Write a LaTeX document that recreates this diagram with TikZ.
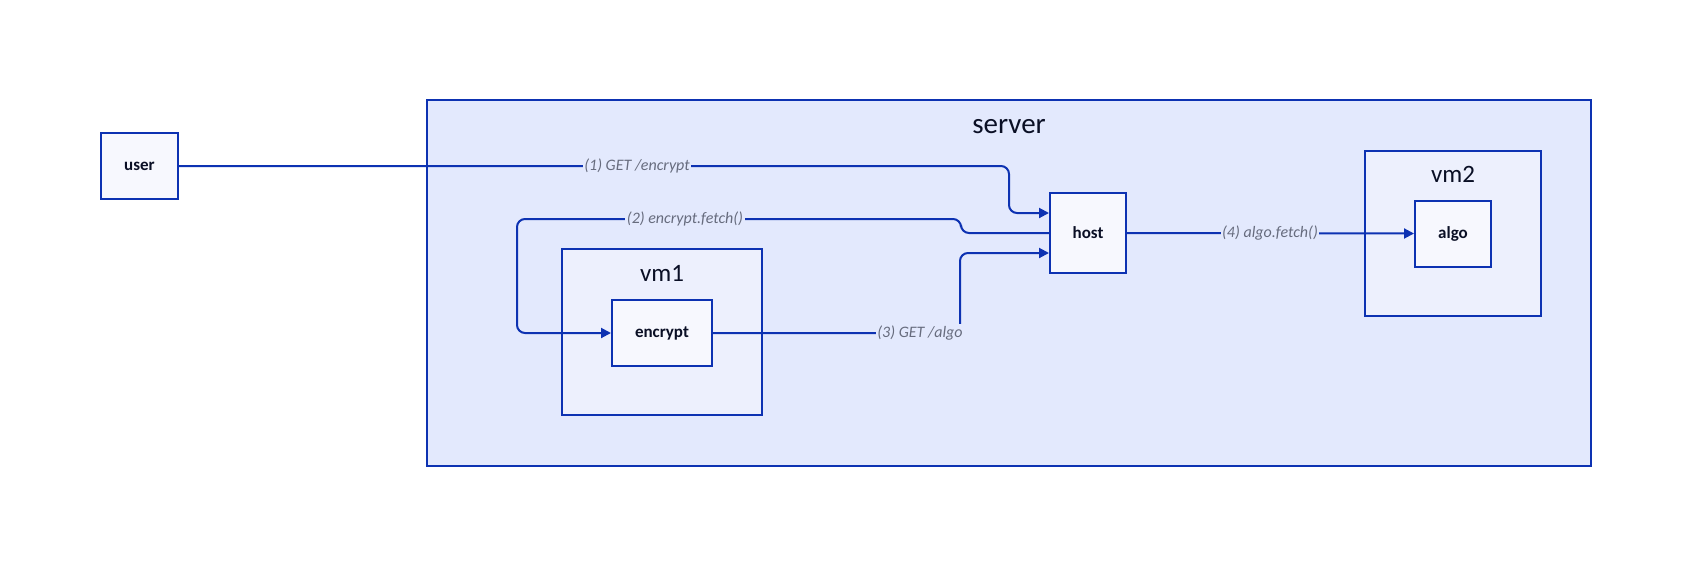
\documentclass[tikz,border=0pt]{standalone}
\usepackage{fontspec}
\setmainfont{Carlito}
\usetikzlibrary{arrows.meta}
\definecolor{strokeblue}{HTML}{0D32B2}
\definecolor{fillone}{HTML}{E3E9FD}
\definecolor{filltwo}{HTML}{EDF0FD}
\definecolor{fillthree}{HTML}{F7F8FE}
\definecolor{textdark}{HTML}{0A0F25}
\definecolor{textgrey}{HTML}{676C7E}
\tikzset{
  box/.style={draw=strokeblue, line width=2pt, fill=fillthree, text=textdark,
    font=\fontsize{17}{20}\selectfont\bfseries, inner sep=0pt},
  container/.style={draw=strokeblue, line width=2pt, inner sep=0pt},
  contlabel/.style={text=textdark, inner sep=0pt},
  conn/.style={draw=strokeblue, line width=2pt, rounded corners=8pt,
    -{Triangle[length=10pt,width=10pt]}},
  elabel/.style={fill=fillone, text=textgrey, inner sep=1.5pt,
    font=\fontsize{16}{19}\selectfont\itshape}
}
\begin{document}
\begin{tikzpicture}[x=1pt,y=-1pt]
\useasboundingbox[fill=white] (0,0) rectangle (1692,568);
% containers
\node[container, fill=fillone, minimum width=1164, minimum height=366] (server) at (1009,283) {};
\node[contlabel, font=\fontsize{29}{35}\selectfont] (serverlbl) at (1009,127) {server};
\node[container, fill=filltwo, minimum width=200, minimum height=166] (vm1) at (662,332) {};
\node[contlabel, font=\fontsize{25}{30}\selectfont] (vm1lbl) at (662,273) {vm1};
\node[container, fill=filltwo, minimum width=176, minimum height=165] (vm2) at (1453,233.5) {};
\node[contlabel, font=\fontsize{25}{30}\selectfont] (vm2lbl) at (1453,174) {vm2};
% nodes
\node[box, minimum width=77, minimum height=66] (user) at (139.5,166) {user};
\node[box, minimum width=76, minimum height=80] (host) at (1088,233) {host};
\node[box, minimum width=76, minimum height=66] (algo) at (1453,233.5) {algo};
\node[box, minimum width=100, minimum height=66] (encrypt) at (662,333) {encrypt};
% connectors
\draw[conn] (user.east) -- (1009,166) -- (1009,213) -- ([yshift=20pt]host.west);
\draw[conn] (host.west) -- (961,233) -- (961,219) -- (517,219) -- (517,333) -- (encrypt.west);
\draw[conn] (encrypt.east) -- (960,333) -- (960,253) -- ([yshift=-20pt]host.west);
\draw[conn] (host.east) -- (algo.west);
% labels
\node[elabel] (l1) at (637,166) {(1) GET /encrypt};
\node[elabel] (l2) at (685,219) {(2) encrypt.fetch()};
\node[elabel] (l3) at (920,333) {(3) GET /algo};
\node[elabel] (l4) at (1270,233) {(4) algo.fetch()};
\end{tikzpicture}
\end{document}
